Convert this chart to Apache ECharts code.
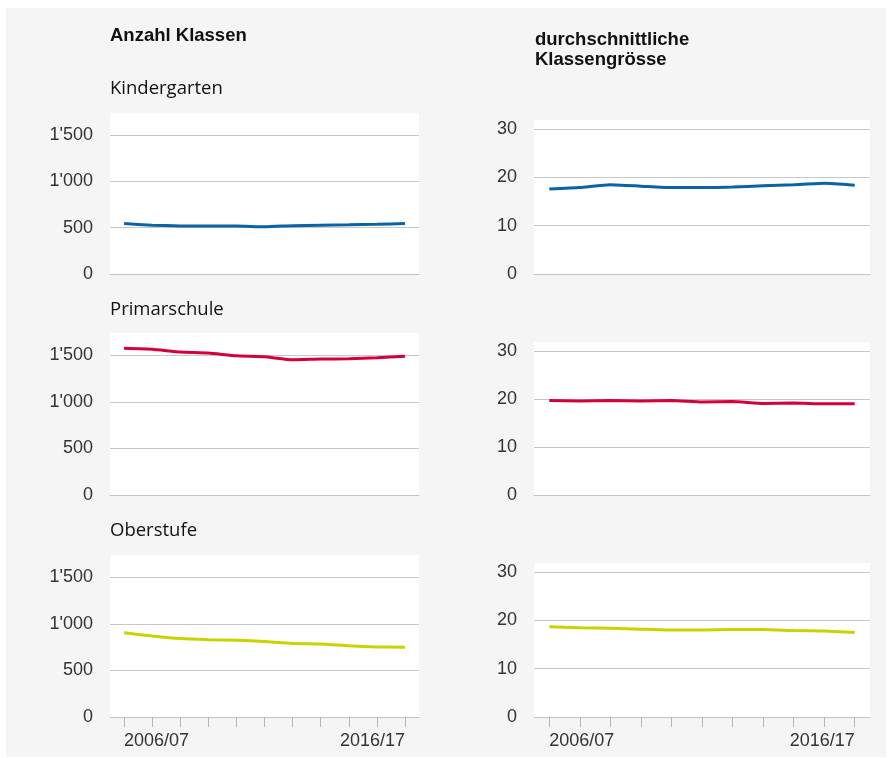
<!DOCTYPE html>
<html>
<head>
<meta charset="utf-8">
<script src="https://cdn.jsdelivr.net/npm/echarts@6/dist/echarts.min.js"></script>
<style>
  html, body { margin: 0; padding: 0; background: #ffffff; }
  #wrap { position: relative; width: 893px; height: 758px; }
  #panel { position: absolute; left: 6px; top: 8px; width: 880px; height: 749px; background: #f5f5f5; }
  #chart { position: absolute; left: 0; top: 0; width: 893px; height: 758px; }
</style>
</head>
<body>
<div id="wrap">
  <div id="panel"></div>
  <div id="chart"></div>
</div>
<script>
// school years
const years = ['2006/07', '2007/08', '2008/09', '2009/10', '2010/11', '2011/12',
  '2012/13', '2013/14', '2014/15', '2015/16', '2016/17'];

// Anzahl Klassen
const kgCount = [545, 527, 520, 518, 518, 510, 522, 527, 532, 538, 545];
const psCount = [1575, 1565, 1535, 1525, 1495, 1485, 1452, 1460, 1463, 1475, 1490];
const osCount = [905, 870, 842, 830, 825, 810, 790, 785, 765, 752, 750];

// durchschnittliche Klassengrösse
const kgSize = [17.6, 17.9, 18.5, 18.2, 17.9, 17.9, 18.0, 18.3, 18.5, 18.8, 18.4];
const psSize = [19.7, 19.6, 19.7, 19.6, 19.7, 19.4, 19.5, 19.1, 19.2, 19.0, 19.0];
const osSize = [18.7, 18.5, 18.4, 18.2, 18.0, 18.0, 18.1, 18.1, 17.9, 17.8, 17.5];

const countTicks = [0, 500, 1000, 1500];
const sizeTicks = [0, 10, 20, 30];

const colors = ['#0b62a5', '#d6003b', '#c9d300'];
const rowTitles = ['Kindergarten', 'Primarschule', 'Oberstufe'];

const chart = echarts.init(document.getElementById('chart'));

const leftTops = [113, 333, 555];
const rightTops = [120, 342, 563];
const bottoms = [274, 495, 717];

const grids = [], xAxes = [], yAxes = [], series = [];
const countData = [kgCount, psCount, osCount];
const sizeData = [kgSize, psSize, osSize];

for (let r = 0; r < 3; r++) {
  for (let c = 0; c < 2; c++) {
    const idx = grids.length;
    const top = c === 0 ? leftTops[r] : rightTops[r];
    grids.push({
      left: c === 0 ? 110 : 534,
      width: c === 0 ? 309 : 336,
      top: top,
      height: bottoms[r] - top,
      show: true,
      backgroundColor: '#ffffff',
      borderWidth: 0
    });
    const last = r === 2;
    xAxes.push({
      type: 'category',
      gridIndex: idx,
      data: years,
      boundaryGap: true,
      axisLine: { show: true, lineStyle: { color: '#c4c4c4', width: 1 } },
      axisTick: {
        show: last, alignWithLabel: true, length: 10,
        interval: 0, lineStyle: { color: '#b5b5b5' }
      },
      axisLabel: {
        show: last,
        interval: (i) => i === 0 || i === years.length - 1,
        alignMinLabel: 'left',
        alignMaxLabel: 'right',
        margin: 15,
        color: '#333333',
        fontFamily: 'Liberation Sans',
        fontSize: 18
      }
    });
    const ticks = c === 0 ? countTicks : sizeTicks;
    yAxes.push({
      type: 'value',
      gridIndex: idx,
      min: 0,
      max: c === 0 ? 1740 : 31.9,
      interval: ticks[1],
      axisLine: { show: false },
      axisTick: { show: false },
      splitLine: { show: true, showMaxLine: false, lineStyle: { color: '#c8c8c8', width: 1 } },
      axisLabel: {
        margin: 17,
        color: '#333333',
        fontFamily: 'Liberation Sans',
        fontSize: 18,
        showMaxLabel: false,
        formatter: (v) => {
          if (ticks.indexOf(v) < 0) return '';
          return c === 0 && v >= 1000 ? Math.floor(v / 1000) + "'" + String(v % 1000).padStart(3, '0') : String(v);
        }
      }
    });
    series.push({
      type: 'line',
      xAxisIndex: idx,
      yAxisIndex: idx,
      data: c === 0 ? countData[r] : sizeData[r],
      symbol: 'none',
      smooth: 0.15,
      lineStyle: { color: colors[r], width: 3 },
      silent: true
    });
  }
}

const titles = [
  { text: 'Anzahl Klassen', left: 105, top: 21,
    textStyle: { fontFamily: 'Liberation Sans', fontSize: 18.5, fontWeight: 'bold', color: '#111111' } },
  { text: 'durchschnittliche\nKlassengrösse', left: 530, top: 25,
    textStyle: { fontFamily: 'Liberation Sans', fontSize: 18.5, fontWeight: 'bold', color: '#111111', lineHeight: 20 } }
];
const rowTitleTops = [74, 295, 516];
rowTitles.forEach((t, i) => {
  titles.push({ text: t, left: 105, top: rowTitleTops[i],
    textStyle: { fontFamily: 'Open Sans', fontSize: 18.5, fontWeight: 'normal', color: '#111111' } });
});

chart.setOption({
  animation: false,
  backgroundColor: 'transparent',
  title: titles,
  grid: grids,
  xAxis: xAxes,
  yAxis: yAxes,
  series: series
});
</script>
</body>
</html>
